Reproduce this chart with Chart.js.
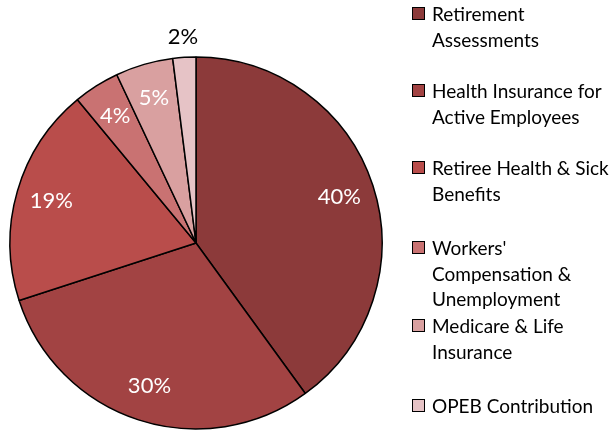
<!DOCTYPE html>
<html lang="en">
<head>
  <meta charset="UTF-8" />
  <title>Expense Breakdown Pie</title>
  <script src="https://cdn.jsdelivr.net/npm/chart.js"></script>
  <style>
    body {
      margin: 0;
      background: #ffffff;
      font-family: Lato, 'Noto Sans', sans-serif;
    }
    .wrap {
      position: relative;
      width: 615px;
      height: 430px;
    }
    .legend {
      position: absolute;
      left: 412px;
      top: 0;
      color: #000;
      font-size: 19px;
      line-height: 25.5px;
    }
    .legend-item {
      position: absolute;
      left: 0;
      white-space: nowrap;
    }
    .legend-box {
      position: absolute;
      left: 0;
      top: 6px;
      width: 11px;
      height: 11px;
      border: 1.5px solid #000;
    }
    .legend-text {
      margin-left: 20px;
    }
  </style>
</head>
<body>
  <div class="wrap">
    <canvas id="pieChart" width="615" height="430"></canvas>
    <div class="legend" id="legend"></div>
  </div>

  <script>
    // chart data
    const categories = [
      ['Retirement', 'Assessments'],
      ['Health Insurance for', 'Active Employees'],
      ['Retiree Health & Sick', 'Benefits'],
      ["Workers'", 'Compensation &', 'Unemployment'],
      ['Medicare & Life', 'Insurance'],
      ['OPEB Contribution']
    ];
    const values = [40, 30, 19, 4, 5, 2];
    const colors = ['#8c3a3a', '#a24343', '#b94d4b', '#c97272', '#d9a0a0', '#e6c3c6'];

    // legend rows (top of each item, px)
    const legendTops = [1, 78, 155, 235, 313, 393];

    const legend = document.getElementById('legend');
    categories.forEach((lines, i) => {
      const item = document.createElement('div');
      item.className = 'legend-item';
      item.style.top = legendTops[i] + 'px';
      item.innerHTML = '<span class="legend-box" style="background:' + colors[i] + '"></span>' +
        '<div class="legend-text">' + lines.join('<br>') + '</div>';
      legend.appendChild(item);
    });

    // percent labels on the slices
    const sliceLabels = {
      id: 'sliceLabels',
      afterDatasetsDraw(chart) {
        const ctx = chart.ctx;
        const meta = chart.getDatasetMeta(0);
        ctx.save();
        ctx.font = '22px Lato, "Noto Sans", sans-serif';
        ctx.textAlign = 'center';
        ctx.textBaseline = 'middle';
        meta.data.forEach((arc, i) => {
          const p = arc.getProps(['x', 'y', 'startAngle', 'endAngle', 'outerRadius'], true);
          const mid = (p.startAngle + p.endAngle) / 2;
          const outside = values[i] < 3;
          const r = outside ? p.outerRadius + 21 : p.outerRadius * 0.81;
          ctx.fillStyle = outside ? '#000000' : '#ffffff';
          ctx.fillText(values[i] + '%', p.x + Math.cos(mid) * r, p.y + Math.sin(mid) * r);
        });
        ctx.restore();
      }
    };

    const ctx = document.getElementById('pieChart').getContext('2d');
    const pieChart = new Chart(ctx, {
      type: 'pie',
      data: {
        labels: categories,
        datasets: [{
          data: values,
          backgroundColor: colors,
          borderColor: '#000000',
          borderWidth: 1.5,
          hoverOffset: 0
        }]
      },
      options: {
        responsive: false,
        animation: false,
        radius: 186,
        layout: {
          padding: { left: 10, right: 233, top: 57, bottom: 1 }
        },
        plugins: {
          legend: { display: false },
          tooltip: { enabled: false }
        }
      },
      plugins: [sliceLabels]
    });
  </script>
</body>
</html>
